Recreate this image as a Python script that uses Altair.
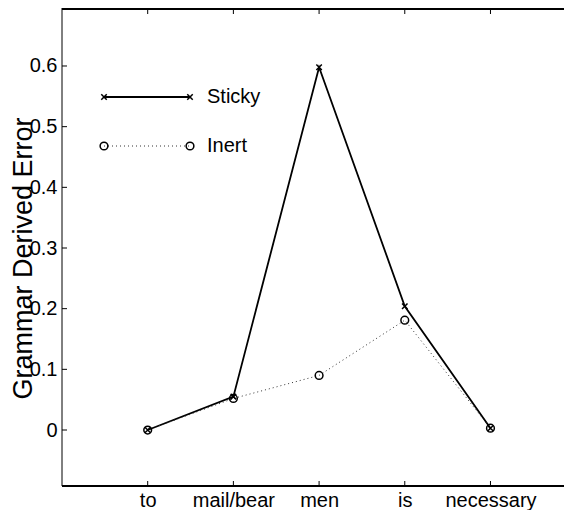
import json
import altair as alt
import pandas as pd

categories = ["to", "mail/bear", "men", "is", "necessary"]
sticky = [0.0, 0.055, 0.598, 0.204, 0.003]
inert = [0.0, 0.052, 0.090, 0.181, 0.003]
series_names = ["Sticky", "Inert"]
y_ticks = [0, 0.1, 0.2, 0.3, 0.4, 0.5, 0.6]
x_ticks = [1, 2, 3, 4, 5]

W, H = 502, 478
FONT = "Liberation Sans"
xs = alt.Scale(domain=[0, 5.858], nice=False, zero=False)
ys = alt.Scale(domain=[-0.0923, 0.6956], nice=False, zero=False)

rows = []
for i, c in enumerate(categories):
    rows.append({"pos": i + 1, "word": c, "series": "Sticky", "value": sticky[i]})
    rows.append({"pos": i + 1, "word": c, "series": "Inert", "value": inert[i]})
df = pd.DataFrame(rows)

one = pd.DataFrame({"k": [0]})
xlab = "%s[datum.value-1]" % json.dumps(categories)

x_axis = alt.Axis(
    values=x_ticks, labelExpr=xlab, domain=False, ticks=False, grid=False,
    labelFontSize=20, labelFont=FONT, labelColor="black", labelPadding=20,
    labelBaseline="alphabetic", title=None)
y_axis = alt.Axis(
    values=y_ticks, labelExpr="datum.value == 0 ? '0' : format(datum.value, '.1f')",
    domain=False, ticks=False, grid=False, labelFontSize=20, labelFont=FONT,
    labelColor="black", labelPadding=5, title="Grammar Derived Error",
    titleFontSize=27, titleFont=FONT, titleFontWeight="normal", titleColor="black",
    titleAngle=270, titleBaseline="alphabetic", titleAlign="center",
    titleX=-31, titleY=250)


def xe(f):
    return alt.X(f, scale=xs, axis=x_axis)


def ye(f):
    return alt.Y(f, scale=ys, axis=y_axis)


X_PATH = "M-1,-1L1,1M1,-1L-1,1"

sticky_line = alt.Chart(df).transform_filter(alt.datum.series == "Sticky").mark_line(
    color="black", strokeWidth=1.8).encode(x=xe("pos:Q"), y=ye("value:Q"))
sticky_pts = alt.Chart(df).transform_filter(alt.datum.series == "Sticky").mark_point(
    shape=X_PATH, size=30, filled=False, color="black", strokeWidth=1.5, opacity=1).encode(
    x=xe("pos:Q"), y=ye("value:Q"))
inert_line = alt.Chart(df).transform_filter(alt.datum.series == "Inert").mark_line(
    color="#333333", strokeWidth=1, strokeDash=[1, 3]).encode(
    x=xe("pos:Q"), y=ye("value:Q"))
inert_pts = alt.Chart(df).transform_filter(alt.datum.series == "Inert").mark_point(
    shape="circle", size=60, filled=False, color="black", strokeWidth=1.5, opacity=1).encode(
    x=xe("pos:Q"), y=ye("value:Q"))

# frame
frame_top = alt.Chart(one).mark_rule(color="black", strokeWidth=2).encode(
    x=alt.value(0), x2=alt.value(W), y=alt.value(1))
frame_bot = alt.Chart(one).mark_rule(color="black", strokeWidth=2).encode(
    x=alt.value(0), x2=alt.value(W), y=alt.value(H))
frame_left = alt.Chart(one).mark_rule(color="black", strokeWidth=1).encode(
    x=alt.value(0), y=alt.value(0), y2=alt.value(H))

# inward ticks
ydf = pd.DataFrame({"value": y_ticks})
xdf = pd.DataFrame({"pos": x_ticks})
yticks = alt.Chart(ydf).mark_rule(color="black", strokeWidth=1).encode(
    y=ye("value:Q"), x=alt.value(0), x2=alt.value(5))
xticks_b = alt.Chart(xdf).mark_rule(color="black", strokeWidth=1).encode(
    x=xe("pos:Q"), y=alt.value(H), y2=alt.value(H - 5))
xticks_t = alt.Chart(xdf).mark_rule(color="black", strokeWidth=1).encode(
    x=xe("pos:Q"), y=alt.value(1), y2=alt.value(6))

# legend
LX1, LX2, LT = 42, 128, 145
leg_s = pd.DataFrame({"name": [series_names[0]]})
leg_i = pd.DataFrame({"name": [series_names[1]]})
ys1, ys2 = 89, 138
leg = [
    alt.Chart(leg_s).mark_rule(color="black", strokeWidth=1.8).encode(
        x=alt.value(LX1), x2=alt.value(LX2), y=alt.value(ys1)),
    alt.Chart(leg_s).mark_point(shape=X_PATH, size=30, filled=False, color="black",
                                strokeWidth=1.5, opacity=1).encode(x=alt.value(LX1), y=alt.value(ys1)),
    alt.Chart(leg_s).mark_point(shape=X_PATH, size=30, filled=False, color="black",
                                strokeWidth=1.5, opacity=1).encode(x=alt.value(LX2), y=alt.value(ys1)),
    alt.Chart(leg_s).mark_text(align="left", baseline="middle", fontSize=20, font=FONT,
                               color="black").encode(x=alt.value(LT), y=alt.value(ys1), text="name:N"),
    alt.Chart(leg_i).mark_rule(color="#333333", strokeWidth=1, strokeDash=[1, 3]).encode(
        x=alt.value(LX1), x2=alt.value(LX2), y=alt.value(ys2)),
    alt.Chart(leg_i).mark_point(shape="circle", size=60, filled=False, color="black",
                                strokeWidth=1.5, opacity=1).encode(x=alt.value(LX1), y=alt.value(ys2)),
    alt.Chart(leg_i).mark_point(shape="circle", size=60, filled=False, color="black",
                                strokeWidth=1.5, opacity=1).encode(x=alt.value(LX2), y=alt.value(ys2)),
    alt.Chart(leg_i).mark_text(align="left", baseline="middle", fontSize=20, font=FONT,
                               color="black").encode(x=alt.value(LT), y=alt.value(ys2), text="name:N"),
]

chart = alt.layer(
    sticky_line, inert_line, inert_pts, sticky_pts,
    frame_top, frame_bot, frame_left, yticks, xticks_b, xticks_t, *leg
).properties(
    width=W, height=H,
    autosize=alt.AutoSizeParams(type="none"),
    padding={"left": 54, "top": 0, "right": 0, "bottom": 24},
    background="white",
).configure_view(stroke=None)

chart.save("out.html", embed_options={"renderer": "svg", "actions": False})
